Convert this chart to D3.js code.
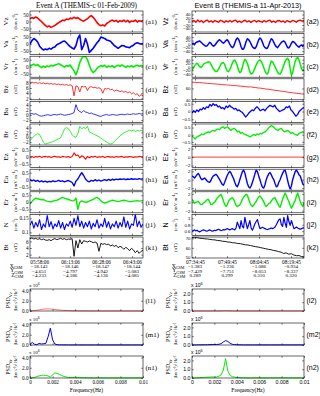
<!DOCTYPE html>
<html><head><meta charset="utf-8">
<script src="https://cdn.jsdelivr.net/npm/d3@7"></script>
<style>body{margin:0;background:#fff}svg{display:block}</style>
</head><body>
<svg id="c" width="320" height="396"></svg>
<script>
// ---------------- DATA ----------------
const spanA = ["05:53:40","06:48:25"];
const spanB = ["07:33:20","08:25:50"];
const timeTicksA = ["05:58:06","06:13:06","06:28:06","06:43:06"];
const timeTicksB = ["07:34:45","07:49:45","08:04:45","08:19:45"];
const xgsmA = ["-18.143","-18.146","-18.147","-18.144"];
const ygsmA = ["-4.651","-4.797","-4.942","-5.083"];
const zgsmA = ["-4.233","-4.186","-4.136","-4.085"];
const xgsmB = ["-1.383","-1.236","-1.086","-0.934"];
const ygsmB = ["-7.429","-7.751","-8.053","-8.337"];
const zgsmB = ["0.289","0.299","0.310","0.320"];

// Event A series
const vzA = [20,28,22,32,25,12,0,-15,-28,-38,-32,-42,-35,-28,-18,-8,0,10,6,18,14,24,20,30,22,28,16,8,2,12,20,34,42,30,12,-8,-22,-30,-24,-32,-14,-6,4,10,2,8,-4,6,0,10,-2,8,-6,4,0,10,-4,6,2,8];
const vaA = [0,25,40,30,15,-15,-30,-42,-35,-40,-30,-36,-25,-20,-5,2,10,18,22,10,-5,-18,-28,-35,-10,40,65,-40,-10,40,0,-60,-45,-30,-10,10,25,50,45,40,30,25,20,5,-10,-20,-30,-20,-10,-12,-20,-22,-25,-15,-8,5,10,5,0,5];
const vrA = [5,12,18,8,15,2,-6,4,-4,6,0,10,4,12,16,22,14,6,-2,8,2,12,-10,-30,-58,-20,30,60,75,72,50,10,-25,-42,-30,-12,0,8,2,10,-4,6,0,8,-6,4,10,2,12,4,-4,6,0,8,-2,6,10,2,8,4];
const bzA = [8.0,8.2,7.9,8.1,7.8,8.0,7.7,7.9,7.6,7.8,7.5,7.7,7.4,7.6,7.3,7.5,7.2,7.4,7.1,7.3,7.0,7.2,6.9,3.0,6.8,6.5,4.5,6.7,6.4,6.6,5.0,6.3,6.5,6.1,6.3,5.9,6.1,5.7,4.0,5.8,5.6,5.8,5.3,5.5,4.8,5.2,5.0,4.6,4.9,4.4,4.7,4.2,4.5,3.8,4.2,3.5,3.8,2.8,3.4,3.0];
const baA = [0.4,0.6,0.3,0.5,0.1,-0.3,-0.5,-0.3,-0.1,0.1,0.0,-0.2,0.1,0.2,0.0,0.2,0.4,0.1,-0.1,0.0,0.2,0.3,0.6,1.0,4.2,2.0,1.4,1.0,1.8,1.2,1.0,0.6,0.8,0.4,0.2,-0.1,-0.4,-0.6,-0.2,0.0,0.2,-0.1,0.0,0.2,0.1,-0.1,0.0,0.2,0.3,0.1,0.2,0.4,0.2,0.3,0.5,0.3,0.4,0.6,0.4,0.5];
const brA = [-1.5,-0.5,0.4,1.0,1.5,1.2,-0.5,-2.0,-2.8,-2.6,-2.3,-2.0,-1.8,-1.4,-1.0,-0.6,-0.2,1.5,3.5,4.0,3.6,2.5,1.0,0.2,0.0,1.5,4.5,3.5,4.1,3.6,4.5,2.2,1.8,1.4,1.0,0.6,0.2,-0.3,-0.9,-1.5,-2.0,-2.5,-2.8,-2.5,-1.8,-1.0,-0.2,0.6,1.2,1.8,2.2,2.6,3.0,2.6,3.0,2.4,2.8,2.5,2.9,2.6];
const ezA = [0.0,0.05,-0.03,0.04,0.0,0.06,-0.02,0.03,0.05,0.0,0.04,-0.03,0.02,0.06,0.0,0.03,-0.02,0.05,0.02,0.0,0.04,-0.03,0.05,0.30,0.12,0.15,-0.05,0.10,0.02,-0.15,0.05,-0.05,0.04,0.0,0.06,-0.02,0.03,0.0,0.05,-0.03,0.02,0.04,0.0,0.03,-0.02,0.05,0.0,0.03,0.05,-0.02,0.03,0.0,0.04,0.02,-0.02,0.03,0.0,0.05,0.02,0.03];
const eaA = [0.0,-0.08,-0.02,-0.12,-0.05,-0.15,-0.08,-0.16,-0.1,-0.18,-0.12,-0.15,-0.08,-0.14,-0.1,-0.05,-0.12,-0.08,-0.15,-0.1,-0.06,-0.12,-0.2,-0.45,-0.1,0.05,0.3,0.5,0.3,0.05,-0.1,-0.15,-0.05,-0.1,0.0,-0.08,-0.02,-0.1,-0.05,0.0,-0.06,0.02,-0.04,0.03,-0.02,0.04,0.0,0.05,0.02,0.06,0.0,0.05,0.02,0.07,0.03,0.06,0.02,0.08,0.04,0.06];
const erA = [-0.1,0.05,0.2,0.3,0.25,0.22,0.18,0.2,0.12,0.08,0.05,0.04,0.08,0.12,0.15,0.2,0.28,0.35,0.3,0.25,0.2,0.15,0.1,0.12,0.3,-0.5,0.0,0.1,0.05,0.0,0.02,0.1,0.15,0.2,0.3,0.35,0.25,0.1,0.0,-0.05,0.0,0.05,0.1,0.15,0.12,0.08,0.05,0.08,0.12,0.15,0.12,0.08,0.05,0.06,0.08,0.1,0.12,0.08,0.1,0.12];
const nA = [0.125,0.14,0.115,0.135,0.12,0.145,0.11,0.13,0.118,0.16,0.12,0.138,0.112,0.13,0.12,0.142,0.115,0.135,0.11,0.13,0.122,0.14,0.118,0.15,0.125,0.16,0.12,0.14,0.115,0.135,0.12,0.14,0.112,0.132,0.12,0.145,0.115,0.13,0.12,0.15,0.118,0.138,0.112,0.13,0.12,0.14,0.115,0.135,0.12,0.155,0.118,0.14,0.112,0.13,0.125,0.165,0.12,0.14,0.118,0.13];
const btA = [6.8,7.0,6.7,6.9,6.6,6.8,6.5,6.7,6.4,6.3,6.5,6.2,6.6,6.8,6.5,6.7,6.9,6.6,6.8,6.5,6.7,6.6,6.8,1.5,6.2,4.0,6.5,5.2,6.2,6.0,5.8,6.1,5.9,5.6,5.8,5.5,3.0,5.4,5.1,5.3,5.0,5.2,4.6,4.9,4.5,4.8,4.1,4.5,4.2,3.6,4.2,3.8,3.2,3.9,3.4,2.6,3.2,2.4,3.0,3.3];

// Event B series
const vzB = [0,6,-4,8,-2,5,-6,3,8,-3,4,-5,6,0,-4,7,2,-6,4,-2,6,-3,5,8,-4,2,-6,3,7,-2,4,-5,2,6,-3,5,0,-4,6,-2,3,8,-4,2,-5,4,6,-2,3,-6,5,0,-3,6,2,-4,5,8,2,6];
const vaB = [0,5,-3,8,12,15,18,12,5,-2,-8,-12,-10,0,10,5,-5,-12,-8,2,12,20,25,18,10,5,12,20,25,15,0,-12,-20,-15,5,25,35,28,10,-15,-30,-28,-10,15,30,25,15,0,-15,-22,-25,-15,5,25,35,28,10,-10,-20,-25,-22,-5,15,30,25,10,-5,-15,-20,-10,0,10,15,18,10,-5,-20,-22,-10,5,15,12,5,-5,-12,-18,-10,-5,-12,-8];
const vrB = [-18,-10,5,15,20,12,0,-5,2,12,20,22,25,28,26,15,0,-12,-22,-28,-26,-15,0,15,22,23,12,-8,-25,-28,-18,0,20,35,38,25,5,-20,-34,-28,-5,25,42,35,18,-5,-30,-42,-38,-25,-8,10,25,35,38,30,15,-5,-25,-38,-42,-20,10,32,28,15,0,-15,-30,-40,-42,-30,-10,10,30,42,48,35,-10,-48,-35,0,30,48,53,40,15,-10,-23,-15];
const bzB = [71,70.8,70.2,70.5,69.8,69.5,69.0,68.8,68.2,68.0,67.5,67.2,66.8,66.5,66.0,65.8,65.2,65.0,64.6,64.0,63.8,63.2,62.6,62.8,62.0,61.5,60.8,60.5,59.8,59.0,58.6,57.8,57.2,56.5,56.0,55.2,54.8,54.0,53.2,52.8,52.0,51.5,51.0,50.4,50.0];
const baB = [-0.1,0.05,-0.05,0.1,0.0,0.15,0.1,0.25,0.15,0.3,0.25,0.45,0.35,0.5,0.4,0.45,0.3,0.35,0.2,0.25,0.15,0.35,0.25,0.4,0.3,0.25,0.15,0.2,0.05,0.1,0.0,-0.05,-0.2,-0.35,-0.25,-0.1,0.0,0.1,0.05,0.2,0.3,0.2,0.05,0.1,0.15,0.05,0.2,0.3,0.4,0.35,0.3,0.4,0.2,0.1,0.0,0.05,0.1,0.15,0.3,0.25,0.35,0.1,0.0,-0.15,-0.3,-0.2,0.0,0.1,0.2,0.25];
const brB = [-0.1,-0.2,-0.3,-0.15,-0.1,-0.05,0.05,0.0,0.1,0.15,0.2,0.15,0.25,0.3,0.25,0.35,0.4,0.35,0.5,0.55,0.45,0.5,0.55,0.4,0.3,0.4,0.45,0.35,0.2,0.25,0.1,0.15,0.05,0.0,-0.05,-0.1,-0.15,-0.05,0.0,-0.05,0.05,0.0,0.1,0.05,0.15,0.2,0.3,0.45,0.55,0.65,0.55,0.45,0.35,0.3,0.4,0.45,0.3,0.2,0.25,0.3,0.2,0.1,0.15,0.05,0.0,-0.05,0.1,0.15,0.2,0.15];
const ezB = [0,0,0,0,0,0,0,0,0,0];
const eaB = [0.9,0.7,0.4,0.8,1.2,1.5,1.0,0.3,0.0,0.2,0.4,0.1,-0.3,-0.5,-0.6,-0.2,0.5,0.9,1.1,1.3,1.0,0.5,0.0,-0.6,-1.1,-1.3,-0.6,0.2,1.0,1.6,2.0,1.6,0.9,0.3,-0.6,-1.4,-1.7,-1.0,0.0,1.0,1.9,2.3,1.6,0.3,-0.9,-1.7,-2.0,-1.5,-0.6,0.3,1.4,2.3,1.9,0.9,0.0,-1.0,-1.8,-2.0,-1.2,0.0,0.8,1.4,1.7,1.2,0.5,0.0,-0.9,-1.7,-1.5,-0.6,0.0,0.8,1.5,2.1,2.3,1.2,-0.2,-1.4,-2.2,-1.5,0.0,1.0,1.9,2.3,1.8,1.2,0.9,0.0,-1.0,-1.3];
const erB = [0.7,0.3,-0.2,0.0,0.1,0.2,-0.2,-0.5,-0.5,-0.2,0.0,0.3,0.6,0.7,0.1,-0.5,-0.5,-0.2,0.0,0.5,1.0,1.3,1.6,1.9,1.2,0.3,-0.5,-1.0,-0.6,0.2,0.7,0.9,1.1,0.8,0.0,-0.7,-1.0,-0.8,-0.6,0.0,0.7,1.2,1.6,1.9,1.7,0.8,-0.1,-0.7,-1.0,-0.7,-0.2,0.2,0.8,1.3,1.5,1.1,0.7,0.1,-0.6,-1.0,-0.7,-0.3,-0.2,0.3,0.7,1.0,1.1,0.4,-0.2,-0.8,-1.2,-0.3,0.7,1.5,2.2,1.6,0.8,0.2,-0.7,-1.4,-0.8,-0.1,0.4,1.5,2.2,1.2,0.2,-0.5,-1.0,-0.2];
const nB = [0.6,0.62,0.64,0.61,0.63,0.6,0.58,0.6,0.62,0.64,0.63,0.61,0.6,0.62,0.64,0.62,0.6,0.61,0.63,0.62,0.64,0.66,0.64,0.62,0.63,0.65,0.64,0.66,0.68,0.66,0.64,0.66,0.68,0.66,0.64,0.7,0.88,0.78,0.68,0.93,0.75,0.7,1.03,0.85,0.68,0.8,0.93,0.7,0.63,0.72,0.83,0.9,0.96,0.8,0.68,0.7,0.72,0.7,0.68,0.66,0.65,0.67,0.68,0.7,0.68,0.7,0.73,0.8,0.88,0.95,0.98,0.8,0.75,1.03,0.85,0.72,1.08,0.9,0.78,0.93,0.8,0.68,0.7,0.73,0.7,0.68,0.66,0.68,0.7,0.7];
const btB = [71,70.6,70.8,70.2,70.0,69.6,69.4,69.0,68.6,68.4,67.8,67.6,67.0,66.8,66.2,66.0,65.4,65.2,64.6,64.4,63.8,63.2,63.0,62.4,61.8,61.2,60.8,60.2,59.6,59.0,58.4,58.0,57.2,56.8,56.0,55.4,54.0,54.6,53.2,53.8,52.4,51.6,51.8,50.8,50.4];

// PSD (units of 1e6)
const psdFreq = [0,0.0002,0.0004,0.0006,0.0008,0.001,0.0012,0.0014,0.0016,0.0018,0.002,0.0022,0.0024,0.0026,0.0028,0.003,0.0032,0.0034,0.0036,0.0038,0.004,0.0042,0.0044,0.0046,0.0048,0.005,0.0052,0.0054,0.0056,0.0058,0.006,0.007,0.008,0.009,0.01];
const psdVzA = [0,0.05,0.1,0.15,0.2,0.3,0.35,0.4,0.4,0.38,0.35,0.3,0.25,0.2,0.15,0.12,0.1,0.08,0.06,0.05,0.04,0.04,0.03,0.03,0.02,0.02,0.02,0.01,0.01,0.01,0.01,0.01,0.01,0.01,0.01];
const psdVaA = [0.1,0.5,0.15,0.05,0.3,0.2,0.25,0.3,1.6,3.3,1.0,0.2,0.05,0.03,0.02,0.02,0.02,0.01,0.01,0.01,0.01,0.01,0.01,0.01,0.01,0.01,0.01,0.01,0.01,0.01,0.01,0.01,0.01,0.01,0.01];
const psdVrA = [0,0.05,0.1,0.3,0.4,0.5,0.55,0.5,0.4,0.2,0.6,1.0,0.9,0.7,0.5,0.3,0.2,0.1,0.1,0.12,0.15,0.1,0.08,0.05,0.05,0.04,0.03,0.02,0.02,0.01,0.01,0.01,0.01,0.01,0.01];
const psdVzB = [0,0.01,0.01,0.01,0.01,0.01,0.01,0.01,0.01,0.01,0.01,0.01,0.01,0.02,0.03,0.04,0.03,0.02,0.01,0.01,0.01,0.01,0.01,0.01,0.01,0.01,0.01,0.01,0.01,0.01,0.01,0.01,0.01,0.01,0.01];
const psdVaB = [0,0.01,0.01,0.02,0.02,0.02,0.03,0.03,0.04,0.05,0.05,0.06,0.08,0.15,0.35,0.5,0.4,0.2,0.08,0.04,0.03,0.02,0.02,0.01,0.01,0.01,0.01,0.01,0.01,0.01,0.01,0.01,0.01,0.01,0.01];
const psdVrB = [0,0.01,0.02,0.03,0.05,0.06,0.08,0.1,0.1,0.12,0.1,0.12,0.2,0.35,0.9,2.2,0.8,0.3,0.15,0.1,0.05,0.04,0.03,0.02,0.02,0.01,0.01,0.01,0.01,0.01,0.01,0.01,0.01,0.01,0.01];
const freqTicks = [0,0.002,0.004,0.006,0.008,0.01];

// ---------------- DRAW ----------------
const svg = d3.select("#c");
const SERIF = "'Liberation Serif','Times New Roman',serif";
const SANS = "'Liberation Sans',Arial,sans-serif";
const RED="#ff0000", BLUE="#0000ff", GREEN="#00ee00", BLACK="#000";
const toSec = t => { const p=t.split(":").map(Number); return p[0]*3600+p[1]*60+p[2]; };
const fmt = v => String(v).replace("-", "\u2212");

const PT = 11, PS = 22.6, PH = 21;
const PSD_TOPS = [289, 323, 356], PSD_H = 22;

const vUnit = ["(km s", "-1", ")"], eUnit = ["(mV m", "-1", ")"], bUnit = ["(nT)"], nUnit = ["(cm", "-3", ")"];

const cols = [
 { x0:30, x1:143, span:spanA, ticks:timeTicksA, gsm:[xgsmA,ygsmA,zgsmA], suf:"1",
   title:"Event A (THEMIS-c 01-Feb-2009)", font:SERIF, nameX:8, unitX:17, psdTicks:[0,2,4], psdDom:[0,4.3],
   psd:[[psdVzA,"#ff7070","Vz"],[psdVaA,BLUE,"Va"],[psdVrA,GREEN,"Vr"]],
   panels:[
    {n:"Vz",u:vUnit,v:vzA,c:RED,d:[-75,75],t:[-50,0,50],w:1.6},
    {n:"Va",u:vUnit,v:vaA,c:BLUE,d:[-75,75],t:[-50,0,50],w:1.6},
    {n:"Vr",u:vUnit,v:vrA,c:GREEN,d:[-75,75],t:[-50,0,50],w:1.6},
    {n:"Bz",u:bUnit,v:bzA,c:RED,d:[1.5,9.5],t:[2,4,6,8],w:0.8},
    {n:"Ba",u:bUnit,v:baA,c:BLUE,d:[-3,5.5],t:[-2,0,2,4],w:0.8},
    {n:"Br",u:bUnit,v:brA,c:GREEN,d:[-3.2,5.5],t:[-2,0,2,4],w:0.8},
    {n:"Ez",u:eUnit,v:ezA,c:RED,d:[-0.75,0.75],t:[-0.5,0,0.5],w:1.1},
    {n:"Ea",u:eUnit,v:eaA,c:BLUE,d:[-0.75,0.75],t:[-0.5,0,0.5],w:1.4},
    {n:"Er",u:eUnit,v:erA,c:GREEN,d:[-0.75,0.75],t:[-0.5,0,0.5],w:1.4},
    {n:"N",u:nUnit,v:nA,c:BLUE,d:[0.089,0.164],t:[0.1,0.15],w:1.1},
    {n:"Bt",u:bUnit,v:btA,c:BLACK,d:[1,7.3],t:[2,4,6],w:0.9}
   ]},
 { x0:192, x1:304, span:spanB, ticks:timeTicksB, gsm:[xgsmB,ygsmB,zgsmB], suf:"2",
   title:"Event B (THEMIS-a 11-Apr-2013)", font:SANS, nameX:168, unitX:177, psdTicks:[0,1,2], psdDom:[0,2.5],
   psd:[[psdVzB,"#ff7070","Vz"],[psdVaB,BLUE,"Va"],[psdVrB,GREEN,"Vr"]],
   panels:[
    {n:"Vz",u:vUnit,v:vzB,c:RED,d:[-60,60],t:[-40,-20,0,20,40],w:1.4},
    {n:"Va",u:vUnit,v:vaB,c:BLUE,d:[-60,60],t:[-40,-20,0,20,40],w:1.5},
    {n:"Vr",u:vUnit,v:vrB,c:GREEN,d:[-60,60],t:[-40,-20,0,20,40],w:1.5},
    {n:"Bz",u:bUnit,v:bzB,c:RED,d:[40,77],t:[40,60],w:0.8},
    {n:"Ba",u:bUnit,v:baB,c:BLUE,d:[-0.7,0.65],t:[-0.5,0,0.5],w:1.3},
    {n:"Br",u:bUnit,v:brB,c:GREEN,d:[-0.72,0.75],t:[-0.5,0,0.5],w:1.3},
    {n:"Ez",u:eUnit,v:ezB,c:RED,d:[-2.5,2.5],t:[-2,0,2],w:0.8},
    {n:"Ea",u:eUnit,v:eaB,c:BLUE,d:[-2.5,2.5],t:[-2,0,2],w:1.4},
    {n:"Er",u:eUnit,v:erB,c:GREEN,d:[-2.5,2.5],t:[-2,0,2],w:1.4},
    {n:"N",u:nUnit,v:nB,c:BLUE,d:[0.47,1.12],t:[0.6,0.8,1],w:1.2},
    {n:"Bt",u:bUnit,v:btB,c:BLACK,d:[49.2,71.5],t:[50,60,70],w:0.9}
   ]}
];

function unitText(sel, parts, fs){
  parts.forEach((p,k)=>{
    const ts = sel.append("tspan").text(p);
    if(k===1){ ts.attr("font-size", fs*0.75).attr("dy", -fs*0.35); }
    if(k===2){ ts.attr("dy", fs*0.35); }
  });
}
function styleAxis(g, font, fs){
  g.select(".domain").remove();
  g.selectAll("line").attr("stroke","#000").attr("stroke-width",0.5);
  g.selectAll("text").attr("font-family",font).attr("font-size",fs).attr("fill","#000");
}

const letters = "abcdefghijk";
cols.forEach(col=>{
  const tick0 = toSec(col.span[0]), tick1 = toSec(col.span[1]);
  const x = d3.scaleLinear().domain([tick0,tick1]).range([col.x0,col.x1]);
  const tickSecs = col.ticks.map(toSec);
  svg.append("text").attr("x",(col.x0+col.x1)/2).attr("y",7.5).attr("text-anchor","middle")
    .attr("font-family",col.font).attr("font-size",7.2).text(col.title);

  col.panels.forEach((p,i)=>{
    const top = PT + i*PS, bot = top + PH, mid = top + PH/2;
    const y = d3.scaleLinear().domain(p.d).range([bot, top]);
    const id = "clip"+col.suf+"_"+i;
    svg.append("clipPath").attr("id",id).append("rect")
      .attr("x",col.x0).attr("y",top).attr("width",col.x1-col.x0).attr("height",PH);
    const n = p.v.length;
    const line = d3.line().x((d,k)=>x(tick0+(tick1-tick0)*k/(n-1))).y(d=>y(d));
    svg.append("path").attr("d",line(p.v)).attr("fill","none").attr("stroke",p.c)
      .attr("stroke-width",p.w).attr("stroke-linejoin","round").attr("clip-path",`url(#${id})`);
    const gl = svg.append("g").attr("transform",`translate(${col.x0},0)`)
      .call(d3.axisLeft(y).tickValues(p.t).tickSizeInner(-1.8).tickSizeOuter(0).tickPadding(1.5).tickFormat(fmt));
    styleAxis(gl, col.font, col.suf==="1"?5.2:4.3);
    const gr = svg.append("g").attr("transform",`translate(${col.x1},0)`)
      .call(d3.axisRight(y).tickValues(p.t).tickSizeInner(-1.8).tickSizeOuter(0).tickFormat(""));
    styleAxis(gr, col.font, 5);
    const gt = svg.append("g").attr("transform",`translate(0,${top})`)
      .call(d3.axisTop(x).tickValues(tickSecs).tickSizeInner(-1.8).tickSizeOuter(0).tickFormat(""));
    styleAxis(gt, col.font, 5);
    const last = i===col.panels.length-1;
    const gb = svg.append("g").attr("transform",`translate(0,${bot})`)
      .call(d3.axisBottom(x).tickValues(tickSecs).tickSizeInner(-1.8).tickSizeOuter(0).tickPadding(2.5)
        .tickFormat(last ? ((d,k)=>col.ticks[k]) : ""));
    styleAxis(gb, SERIF, 5.3);
    svg.append("rect").attr("x",col.x0).attr("y",top).attr("width",col.x1-col.x0).attr("height",PH)
      .attr("fill","none").attr("stroke","#000").attr("stroke-width",0.6);
    svg.append("text").attr("transform",`translate(${col.nameX},${mid}) rotate(-90)`)
      .attr("text-anchor","middle").attr("font-family",col.font).attr("font-size",7).text(p.n);
    unitText(svg.append("text").attr("transform",`translate(${col.unitX},${mid}) rotate(-90)`)
      .attr("text-anchor","middle").attr("font-family",SERIF).attr("font-size",5), p.u, 5);
    svg.append("text").attr("x",col.x1+2.5).attr("y",mid+2.5).attr("font-family",col.font)
      .attr("font-size",7).text("("+letters[i]+col.suf+")");
  });

  const rowsY = [268, 272.5, 277];
  const axNames = ["X","Y","Z"];
  col.gsm.forEach((arr,r)=>{
    arr.forEach((v,k)=>{
      svg.append("text").attr("x",x(tickSecs[k])).attr("y",rowsY[r]).attr("text-anchor","middle")
        .attr("font-family",SERIF).attr("font-size",5).text(fmt(v));
    });
    const t = svg.append("text").attr("x",col.x0-14+ r*0.6).attr("y",rowsY[r]-0.5)
      .attr("text-anchor","middle").attr("font-family",SERIF).attr("font-size",5.5);
    t.append("tspan").text(axNames[r]);
    t.append("tspan").attr("font-size",4).attr("dy",1.8).text("GSM");
  });

  const xf = d3.scaleLinear().domain([0,0.01]).range([col.x0,col.x1]);
  col.psd.forEach((ps,i)=>{
    const top = PSD_TOPS[i], bot = top+PSD_H, mid = top+PSD_H/2;
    const y = d3.scaleLinear().domain(col.psdDom).range([bot,top]);
    const line = d3.line().x((d,k)=>xf(psdFreq[k])).y(d=>y(d));
    svg.append("path").attr("d",line(ps[0])).attr("fill","none").attr("stroke",ps[1]).attr("stroke-width",1);
    const gl = svg.append("g").attr("transform",`translate(${col.x0},0)`)
      .call(d3.axisLeft(y).tickValues(col.psdTicks).tickSizeInner(-1.8).tickSizeOuter(0).tickPadding(1.5));
    styleAxis(gl, col.font, 5.2);
    const gr = svg.append("g").attr("transform",`translate(${col.x1},0)`)
      .call(d3.axisRight(y).tickValues(col.psdTicks).tickSizeInner(-1.8).tickSizeOuter(0).tickFormat(""));
    styleAxis(gr, col.font, 5);
    const gt = svg.append("g").attr("transform",`translate(0,${top})`)
      .call(d3.axisTop(xf).tickValues(freqTicks).tickSizeInner(-1.8).tickSizeOuter(0).tickFormat(""));
    styleAxis(gt, col.font, 5);
    const last = i===2;
    const gb = svg.append("g").attr("transform",`translate(0,${bot})`)
      .call(d3.axisBottom(xf).tickValues(freqTicks).tickSizeInner(-1.8).tickSizeOuter(0).tickPadding(2.5)
        .tickFormat(last ? (d=>String(d)) : ""));
    styleAxis(gb, col.font, 5.2);
    svg.append("rect").attr("x",col.x0).attr("y",top).attr("width",col.x1-col.x0).attr("height",PSD_H)
      .attr("fill","none").attr("stroke","#000").attr("stroke-width",0.6);
    const m = svg.append("text").attr("x",col.x0-1).attr("y",top-2).attr("font-family",col.font).attr("font-size",5);
    m.append("tspan").text("x 10");
    m.append("tspan").attr("font-size",3.8).attr("dy",-1.8).text("6");
    const yl = svg.append("text").attr("transform",`translate(${col.nameX+2},${mid}) rotate(-90)`)
      .attr("text-anchor","middle").attr("font-family",SERIF).attr("font-size",6);
    yl.append("tspan").text("PSD");
    yl.append("tspan").attr("font-size",4.5).attr("dy",1.5).text(ps[2]);
    const ul = svg.append("text").attr("transform",`translate(${col.nameX+9},${mid}) rotate(-90)`)
      .attr("text-anchor","middle").attr("font-family",SERIF).attr("font-size",4);
    unitText(ul, ["(km s","-1",")"], 4);
    ul.append("tspan").attr("font-size",3).attr("dy",-1.4).text("2");
    ul.append("tspan").attr("dy",1.4).text(" Hz");
    ul.append("tspan").attr("font-size",3).attr("dy",-1.4).text("-1");
    svg.append("text").attr("x",col.x1+2.5).attr("y",mid+2.5).attr("font-family",col.font)
      .attr("font-size",7).text("("+"lmn"[i]+col.suf+")");
  });
  svg.append("text").attr("x",(col.x0+col.x1)/2).attr("y",392).attr("text-anchor","middle")
    .attr("font-family",SERIF).attr("font-size",5.5).text("Frequency(Hz)");
});
</script>
</body></html>
